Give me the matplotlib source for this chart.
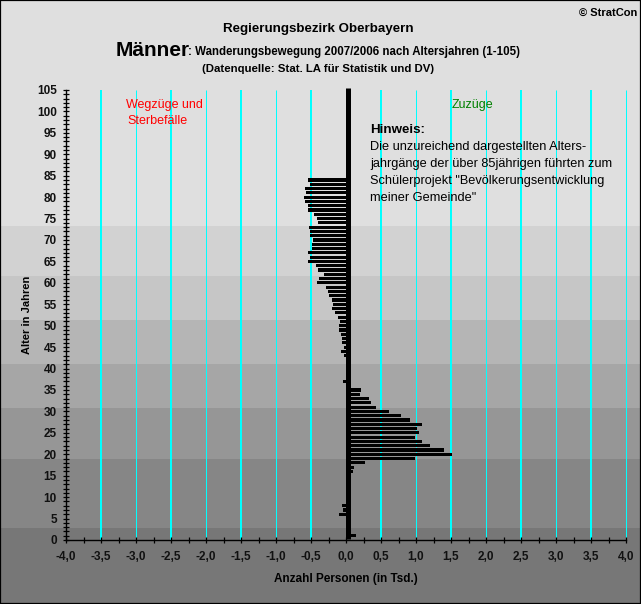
import numpy as np
import matplotlib
matplotlib.use("Agg")
import matplotlib.pyplot as plt
from matplotlib.patches import Rectangle

plt.rcParams['font.family'] = ['Liberation Sans', 'DejaVu Sans']

# Alter 84 bis 43, Wegzuege und Sterbefaelle (Tsd.)
ages_out = np.arange(84, 42, -1)
values_out = [-0.54, -0.51, -0.59, -0.57, -0.60, -0.59, -0.54, -0.54, -0.46, -0.42,
              -0.40, -0.53, -0.51, -0.51, -0.47, -0.49, -0.49, -0.54, -0.51, -0.54,
              -0.43, -0.40, -0.31, -0.39, -0.42, -0.29, -0.26, -0.24, -0.20, -0.19,
              -0.20, -0.16, -0.11, -0.09, -0.10, -0.10, -0.07, -0.06, -0.06, -0.03,
              -0.07, -0.03]
ages_out_young = [37, 8, 7, 6]
values_out_young = [-0.04, -0.06, -0.04, -0.10]

# Zuzuege
ages_in = [35, 34, 33, 32, 31, 30, 29, 28, 27, 26, 25, 24, 23, 22, 21, 20, 19, 18, 17, 16, 1]
values_in = [0.21, 0.20, 0.33, 0.36, 0.43, 0.61, 0.79, 0.91, 1.09, 1.01, 1.04, 0.99,
             1.09, 1.20, 1.40, 1.51, 0.99, 0.27, 0.11, 0.10, 0.14]

# Hintergrund-Stufen (Alter) und Grauwerte
band_edges = [-15, 2.8, 18.9, 30.8, 41, 51.3, 61.6, 73.3, 126]
band_colors = ['#777777', '#868686', '#969696', '#a6a6a6', '#b5b5b5', '#c6c6c6', '#d2d2d2', '#dfdfdf']

x_major = np.arange(-4, 4.01, 0.5)
x_labels = [f"{v:.1f}".replace('.', ',') for v in x_major]
y_major = np.arange(0, 106, 5)
grid_half = np.arange(-3.5, 4, 1.0)
grid_full = np.arange(-3, 4.01, 1.0)

W, H = 641, 604
fig = plt.figure(figsize=(W / 100, H / 100), dpi=100)

bg = fig.add_axes([0, 0, 1, 1])
bg.set_xlim(0, 1)
bg.set_ylim(-64 / (450 / 105), 540 / (450 / 105))
bg.axis('off')
for i, c in enumerate(band_colors):
    bg.axhspan(band_edges[i], band_edges[i + 1], color=c, lw=0, antialiased=False)

ax = fig.add_axes([66 / W, (H - 540) / H, 560 / W, 450 / H])
ax.patch.set_alpha(0)
ax.set_xlim(-4, 4)
ax.set_ylim(0, 105)

ax.vlines(grid_half, 0, 105, color='#00ffff', lw=1.44, zorder=1)
ax.vlines(grid_full, 0, 105, color='#00ffff', lw=0.72, zorder=1, clip_on=False)
ax.barh(ages_out, values_out, height=0.75, color='black', lw=0, antialiased=False, zorder=2)
ax.barh(ages_out_young, values_out_young, height=0.75, color='black', lw=0, antialiased=False, zorder=2)
ax.barh(ages_in, values_in, height=0.75, color='black', lw=0, antialiased=False, zorder=2)
ax.vlines(0.035, 0.3, 105.5, color='black', lw=3.6, zorder=3, clip_on=False)

for s in ['top', 'right']:
    ax.spines[s].set_visible(False)
for s in ['left', 'bottom']:
    ax.spines[s].set_linewidth(1.0)

ax.set_xticks(x_major)
ax.set_xticks(np.arange(-4, 4.01, 0.25), minor=True)
ax.set_xticklabels(x_labels, fontsize=8.5, fontweight='bold', color='#111111')
ax.set_yticks(y_major)
ax.set_yticks(np.arange(0, 106, 1), minor=True)
ax.set_yticklabels(y_major, fontsize=8.5, fontweight='bold', color='#111111')
ax.tick_params(axis='x', which='both', direction='inout', length=4, width=0.9, pad=6)
ax.tick_params(axis='y', which='both', direction='inout', length=4.3, width=0.9, pad=4.5)
ax.set_xlabel("Anzahl Personen (in Tsd.)", fontsize=8.5, fontweight='bold', labelpad=7)
ax.set_ylabel("Alter in Jahren", fontsize=8, fontweight='bold')
ax.yaxis.set_label_coords((32 - 66) / 560, (540 - 315) / 450)

def px_text(x, y, s, **kw):
    fig.text(x / W, 1 - y / H, s, **kw)

px_text(318, 29, "Regierungsbezirk Oberbayern", fontsize=9.6, fontweight='bold', ha='center', va='center')
px_text(116, 50, "Männer", fontsize=15, fontweight='bold', ha='left', va='center')
px_text(188, 52, ": Wanderungsbewegung 2007/2006 nach Altersjahren (1-105)", fontsize=8.3, fontweight='bold', ha='left', va='center')
px_text(202, 69, "(Datenquelle: Stat. LA für Statistik und DV)", fontsize=8.2, fontweight='bold', ha='left', va='center')
px_text(637, 13, "© StratCon", fontsize=8, fontweight='bold', ha='right', va='center')
px_text(126, 105, "Wegzüge und", fontsize=9, color='#ff0000', ha='left', va='center')
px_text(127, 121, "Sterbefälle", fontsize=9, color='#ff0000', ha='left', va='center')
px_text(452, 105, "Zuzüge", fontsize=9, color='#008000', ha='left', va='center')
px_text(370, 130, "Hinweis:", fontsize=9.6, fontweight='bold', ha='left', va='center')
note = ["Die unzureichend dargestellten Alters-",
        "jahrgänge der über 85jährigen führten zum",
        "Schülerprojekt \"Bevölkerungsentwicklung",
        "meiner Gemeinde\""]
for i, line in enumerate(note):
    px_text(370, 147 + i * 17, line, fontsize=9.2, ha='left', va='center')

fig.add_artist(Rectangle((0, 0), 1, 1, transform=fig.transFigure, fill=False, ec='black', lw=1.6))

fig.savefig("out.png", dpi=100)
